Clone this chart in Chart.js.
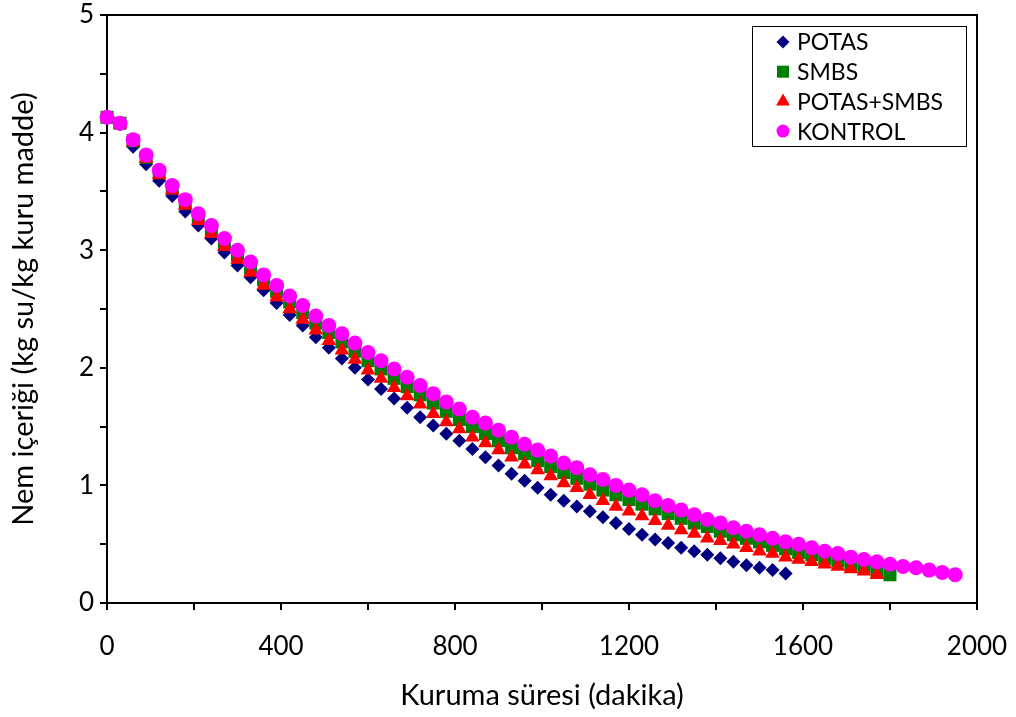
<!DOCTYPE html>
<html>
<head>
<meta charset="utf-8">
<script src="https://cdn.jsdelivr.net/npm/chart.js@4.4.0/dist/chart.umd.min.js"></script>
<style>
  html, body { margin: 0; padding: 0; background: #ffffff; }
  #wrap { width: 1016px; height: 717px; }
</style>
</head>
<body>
<div id="wrap"><canvas id="chart" width="1016" height="717"></canvas></div>
<script>
// drying time (minutes), one reading every 30 min
const times = [0, 30, 60, 90, 120, 150, 180, 210, 240, 270, 300, 330, 360, 390, 420, 450, 480, 510, 540, 570,
  600, 630, 660, 690, 720, 750, 780, 810, 840, 870, 900, 930, 960, 990, 1020, 1050, 1080, 1110, 1140, 1170,
  1200, 1230, 1260, 1290, 1320, 1350, 1380, 1410, 1440, 1470, 1500, 1530, 1560, 1590, 1620, 1650, 1680, 1710,
  1740, 1770, 1800, 1830, 1860, 1890, 1920, 1950];

// moisture content (kg su / kg kuru madde)
const potas = [4.12, 4.07, 3.88, 3.73, 3.59, 3.46, 3.33, 3.21, 3.10, 2.98, 2.87, 2.77, 2.66, 2.55, 2.45, 2.36,
  2.26, 2.17, 2.08, 2.00, 1.90, 1.82, 1.74, 1.66, 1.58, 1.51, 1.44, 1.38, 1.31, 1.24, 1.17, 1.10, 1.04, 0.98,
  0.92, 0.87, 0.82, 0.78, 0.73, 0.68, 0.63, 0.58, 0.54, 0.51, 0.47, 0.44, 0.41, 0.38, 0.35, 0.32, 0.30, 0.28, 0.25];

const smbs = [4.13, 4.08, 3.93, 3.79, 3.66, 3.53, 3.40, 3.28, 3.17, 3.06, 2.96, 2.85, 2.75, 2.65, 2.56, 2.47,
  2.38, 2.30, 2.22, 2.14, 2.06, 1.99, 1.91, 1.84, 1.77, 1.70, 1.63, 1.56, 1.50, 1.44, 1.38, 1.32, 1.27, 1.21,
  1.16, 1.11, 1.06, 1.01, 0.96, 0.92, 0.88, 0.84, 0.80, 0.76, 0.72, 0.68, 0.65, 0.61, 0.58, 0.55, 0.52, 0.49,
  0.46, 0.43, 0.41, 0.38, 0.36, 0.33, 0.31, 0.27, 0.24];

const potasSmbs = [4.13, 4.07, 3.92, 3.78, 3.64, 3.51, 3.38, 3.25, 3.14, 3.03, 2.92, 2.81, 2.70, 2.60, 2.50, 2.41,
  2.32, 2.23, 2.15, 2.07, 1.98, 1.91, 1.83, 1.76, 1.69, 1.61, 1.54, 1.48, 1.41, 1.36, 1.30, 1.24, 1.18, 1.13,
  1.08, 1.02, 0.98, 0.92, 0.87, 0.82, 0.78, 0.74, 0.70, 0.66, 0.62, 0.59, 0.55, 0.53, 0.50, 0.47, 0.44, 0.42,
  0.39, 0.37, 0.35, 0.33, 0.31, 0.29, 0.27, 0.24];

const kontrol = [4.13, 4.08, 3.94, 3.81, 3.68, 3.55, 3.43, 3.31, 3.21, 3.10, 3.00, 2.90, 2.79, 2.70, 2.61, 2.53,
  2.44, 2.36, 2.29, 2.21, 2.13, 2.06, 1.99, 1.92, 1.85, 1.78, 1.71, 1.65, 1.58, 1.53, 1.47, 1.41, 1.35, 1.30,
  1.25, 1.19, 1.15, 1.09, 1.05, 1.00, 0.96, 0.92, 0.87, 0.83, 0.79, 0.75, 0.71, 0.68, 0.64, 0.61, 0.58, 0.55,
  0.52, 0.50, 0.47, 0.44, 0.42, 0.39, 0.37, 0.35, 0.33, 0.31, 0.30, 0.28, 0.26, 0.24];

const seriesNames = ['POTAS', 'SMBS', 'POTAS+SMBS', 'KONTROL'];
const xTicks = [0, 400, 800, 1200, 1600, 2000];
const yTicks = [0, 1, 2, 3, 4, 5];

const FONT = 'Lato, "Open Sans", sans-serif';

function pts(vals) {
  return vals.map((v, i) => ({ x: times[i], y: v }));
}

// top + right frame lines of the plot area
const framePlugin = {
  id: 'frame',
  beforeDatasetsDraw(chart) {
    const a = chart.chartArea;
    const ctx = chart.ctx;
    ctx.save();
    ctx.strokeStyle = '#000';
    ctx.lineWidth = 2;
    ctx.beginPath();
    ctx.moveTo(a.left, a.top);
    ctx.lineTo(a.right, a.top);
    ctx.lineTo(a.right, a.bottom);
    ctx.stroke();
    ctx.restore();
  }
};

// boxed legend inside the plot, top-right
const boxLegend = {
  id: 'boxLegend',
  afterDraw(chart) {
    const ctx = chart.ctx;
    const bx = 752, by = 26, bw = 214, bh = 120;
    ctx.save();
    ctx.fillStyle = '#fff';
    ctx.fillRect(bx, by, bw, bh);
    ctx.strokeStyle = '#000';
    ctx.lineWidth = 1;
    ctx.strokeRect(bx + 0.5, by + 0.5, bw, bh);
    ctx.font = '23px ' + FONT;
    ctx.textBaseline = 'middle';
    chart.data.datasets.forEach((ds, i) => {
      const y = 42 + i * 29.7;
      ctx.fillStyle = ds.backgroundColor;
      ctx.strokeStyle = ds.borderColor;
      Chart.helpers.drawPoint(ctx, { pointStyle: ds.pointStyle, radius: ds.legendRadius, borderWidth: 0 }, 783, y);
      ctx.fillStyle = '#000';
      ctx.fillText(ds.label, 797, y + 1);
    });
    ctx.restore();
  }
};

new Chart(document.getElementById('chart'), {
  type: 'scatter',
  data: {
    datasets: [
      { label: seriesNames[0], data: pts(potas), pointStyle: 'rectRot', pointRadius: 7, legendRadius: 6.5,
        backgroundColor: '#000080', borderColor: '#000080', borderWidth: 0, order: 4, clip: false },
      { label: seriesNames[1], data: pts(smbs), pointStyle: 'rect', pointRadius: 9.2, legendRadius: 8.5,
        backgroundColor: '#008000', borderColor: '#008000', borderWidth: 0, order: 3, clip: false },
      { label: seriesNames[2], data: pts(potasSmbs), pointStyle: 'triangle', pointRadius: 8.5, legendRadius: 8,
        backgroundColor: '#ff0000', borderColor: '#ff0000', borderWidth: 0, order: 2, clip: false },
      { label: seriesNames[3], data: pts(kontrol), pointStyle: 'circle', pointRadius: 7.5, legendRadius: 6.5,
        backgroundColor: '#ff00ff', borderColor: '#ff00ff', borderWidth: 0, order: 1, clip: false }
    ]
  },
  options: {
    responsive: false,
    animation: false,
    layout: { padding: { left: 0, top: 15, right: 39, bottom: 0 } },
    plugins: { legend: { display: false }, tooltip: { enabled: false } },
    elements: { point: { hoverRadius: 0 } },
    scales: {
      x: {
        type: 'linear', min: 0, max: 2000,
        afterFit: s => { s.height = 114; s.paddingLeft = 0; s.paddingRight = 0; },
        border: { display: true, color: '#000', width: 2 },
        grid: { drawOnChartArea: false, drawTicks: true, tickLength: 7, color: '#000', lineWidth: 2 },
        ticks: {
          stepSize: 200, color: '#000', padding: 21, maxRotation: 0, autoSkip: false,
          font: { family: FONT, size: 26 },
          callback: v => xTicks.includes(v) ? String(v) : ''
        },
        title: { display: true, text: 'Kuruma süresi (dakika)', color: '#000',
          font: { family: FONT, size: 29 }, padding: { top: 10, bottom: 4 } }
      },
      y: {
        type: 'linear', min: 0, max: 5,
        afterFit: s => { s.width = 107; s.paddingTop = 0; s.paddingBottom = 0; },
        border: { display: true, color: '#000', width: 2 },
        grid: { drawOnChartArea: false, drawTicks: true, tickLength: 7, color: '#000', lineWidth: 2 },
        ticks: {
          stepSize: 0.5, color: '#000', padding: 6,
          font: { family: FONT, size: 26 },
          callback: v => yTicks.includes(v) ? String(v) : ''
        },
        title: { display: true, text: 'Nem içeriği (kg su/kg kuru madde)', color: '#000',
          font: { family: FONT, size: 29 }, padding: { top: 6, bottom: 4 } }
      }
    }
  },
  plugins: [framePlugin, boxLegend]
});
</script>
</body>
</html>
